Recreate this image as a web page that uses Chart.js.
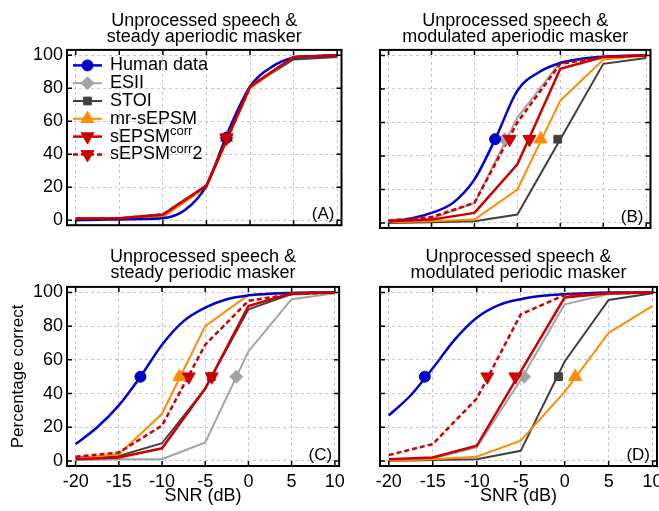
<!DOCTYPE html>
<html>
<head>
<meta charset="utf-8">
<script src="https://cdn.jsdelivr.net/npm/chart.js@4.4.1/dist/chart.umd.min.js"></script>
<style>
  html, body { margin: 0; padding: 0; background: #fff; overflow: hidden; width: 659px; height: 511px; }
  canvas { position: absolute; }
</style>
</head>
<body>
<canvas id="chartA" width="350" height="240" style="left:0;top:0"></canvas>
<canvas id="chartB" width="309" height="240" style="left:350px;top:0"></canvas>
<canvas id="chartC" width="350" height="271" style="left:0;top:240px"></canvas>
<canvas id="chartD" width="330" height="271" style="left:350px;top:240px"></canvas>
<script>
// shared axes / labels
const snrModel = [-20, -15, -10, -5, 0, 5, 10];
const snrHuman = [-20, -17.5, -15, -12.5, -10, -7.5, -5, -2.5, 0, 2.5, 5, 7.5, 10];
const xTickValues = [-20, -15, -10, -5, 0, 5, 10];
const yTickValues = [0, 20, 40, 60, 80, 100];
const seriesNames = ['Human data', 'ESII', 'STOI', 'mr-sEPSM', 'sEPSM^{corr}', 'sEPSM^{corr}2'];

// (A) steady aperiodic masker
const titleA = ['Unprocessed speech &', 'steady aperiodic masker'];
const humanA = [0, 0.3, 0.5, 0.8, 1.2, 6, 21, 54, 81, 93, 98.5, 99.5, 100];
const esiiA = [1, 1, 2, 21, 81, 98, 99.5];
const stoiA = [1, 1, 2.5, 21, 81, 97.5, 99];
const mrA = [0.5, 0.8, 2, 20, 80, 99, 100];
const corrA = [1, 1.2, 3.5, 21, 81, 99, 100];
const corr2A = [1, 1.2, 3.5, 21, 81, 99, 100];
const srtA = [-2.7, -2.7, -2.7, -2.7, -2.7, -2.7];

// (B) modulated aperiodic masker
const titleB = ['Unprocessed speech &', 'modulated aperiodic masker'];
const humanB = [1, 2.6, 6, 12, 26, 51, 79, 90, 95.5, 98, 99.2, 99.8, 100];
const esiiB = [1, 2.5, 12, 63, 96, 99, 100];
const stoiB = [0, 0.5, 1, 5, 50, 95, 98.5];
const mrB = [0.5, 1, 2, 20, 73, 97.5, 100];
const corrB = [1, 2, 6, 35, 92, 99, 100];
const corr2B = [1.5, 3.5, 12, 60, 95, 99, 100];
const srtB = [-7.6, -6.5, -0.3, -2.3, -3.6, -5.9];

// (C) steady periodic masker
const titleC = ['Unprocessed speech &', 'steady periodic masker'];
const humanC = [10, 20, 33, 50, 69, 83, 91, 96, 98.3, 99.3, 99.7, 100, 100];
const esiiC = [0.5, 1, 1, 11, 65, 96, 99.5];
const stoiC = [2, 3, 10.5, 43, 90, 99, 100];
const mrC = [1.5, 4, 28, 80, 98.5, 99.5, 100];
const corrC = [1, 2, 7.5, 43, 92, 99.5, 100];
const corr2C = [2.5, 5, 21, 69, 95, 99, 100];
const srtC = [-12.5, -1.4, -4.3, -8.0, -4.25, -6.9];

// (D) modulated periodic masker
const titleD = ['Unprocessed speech &', 'modulated periodic masker'];
const humanD = [27, 39, 55, 72, 85, 92.5, 96, 98, 99, 99.6, 100, 100, 100];
const esiiD = [0.5, 1.5, 8, 48, 93, 99, 100];
const stoiD = [0, 0.5, 1, 6, 59, 95.5, 99.5];
const mrD = [0, 1, 2.5, 12, 41, 76, 92];
const corrD = [1, 2, 9, 53, 97, 99.5, 100];
const corr2D = [3.5, 10, 37, 87, 98.5, 99.5, 100];
const srtD = [-15.9, -4.6, -0.7, 1.2, -5.6, -8.8];

const FONT = '"Liberation Sans", Arial, Helvetica, sans-serif';

const seriesStyles = [
    { color: '#0000cc', width: 2.5, dash: [], point: 'circle', radius: 5.5, rotation: 0 },
    { color: '#a3a3a3', width: 2, dash: [], point: 'rectRot', radius: 6.5, rotation: 0 },
    { color: '#404040', width: 2, dash: [], point: 'rect', radius: 5.5, rotation: 0 },
    { color: '#ff8c00', width: 2, dash: [], point: 'triangle', radius: 7.5, rotation: 0 },
    { color: '#cc0000', width: 2.5, dash: [], point: 'triangle', radius: 7.5, rotation: 180 },
    { color: '#cc0000', width: 2.5, dash: [5, 3], point: 'triangle', radius: 7.5, rotation: 180 }
];
// drawing order, topmost first
const stackOrder = [4, 5, 0, 3, 2, 1];

function buildDatasets(curves, srt) {
    const sets = [];
    curves.forEach((vals, i) => {
        const st = seriesStyles[i];
        const xs = i === 0 ? snrHuman : snrModel;
        const rank = stackOrder.indexOf(i);
        sets.push({
            data: xs.map((x, k) => ({ x: x, y: vals[k] })),
            borderColor: st.color,
            borderWidth: st.width,
            borderDash: st.dash,
            pointRadius: 0,
            tension: i === 0 ? 0.4 : 0,
            cubicInterpolationMode: i === 0 ? 'monotone' : 'default',
            order: 10 + rank
        });
        sets.push({
            data: [{ x: srt[i], y: 50 }],
            showLine: false,
            pointStyle: st.point,
            pointRadius: st.radius,
            pointRotation: st.rotation,
            pointBackgroundColor: st.color,
            pointBorderColor: st.color,
            pointBorderWidth: 1,
            order: rank
        });
    });
    return sets;
}

// black box with inward tick marks on all sides
const framePlugin = {
    id: 'frame',
    afterDraw(chart) {
        const { ctx, chartArea: a } = chart;
        const x = chart.scales.x, y = chart.scales.y;
        ctx.save();
        ctx.strokeStyle = '#000';
        ctx.lineWidth = 1.5;
        ctx.beginPath();
        x.ticks.forEach(t => {
            const px = x.getPixelForValue(t.value);
            ctx.moveTo(px, a.bottom); ctx.lineTo(px, a.bottom - 5);
            ctx.moveTo(px, a.top); ctx.lineTo(px, a.top + 5);
        });
        y.ticks.forEach(t => {
            const py = y.getPixelForValue(t.value);
            ctx.moveTo(a.left, py); ctx.lineTo(a.left + 5, py);
            ctx.moveTo(a.right, py); ctx.lineTo(a.right - 5, py);
        });
        ctx.stroke();
        ctx.lineWidth = 2;
        ctx.strokeRect(a.left, a.top, a.right - a.left, a.bottom - a.top);
        ctx.restore();
    }
};

const panelTagPlugin = {
    id: 'panelTag',
    afterDatasetsDraw(chart, args, opts) {
        const { ctx, chartArea: a } = chart;
        ctx.save();
        ctx.font = '17px ' + FONT;
        ctx.fillStyle = '#000';
        ctx.textAlign = 'right';
        ctx.textBaseline = 'middle';
        ctx.fillText(opts.text, a.right - 7, a.bottom - 11);
        ctx.restore();
    }
};

function labelParts(name) {
    const m = name.match(/^(.*?)\^\{(.*?)\}(.*)$/);
    return m ? [[m[1], false], [m[2], true], [m[3], false]] : [[name, false]];
}

const legendPlugin = {
    id: 'seriesLegend',
    afterDatasetsDraw(chart) {
        const { ctx, chartArea: a } = chart;
        const x0 = a.left + 6, x1 = a.left + 35, tx = a.left + 43;
        seriesNames.forEach((name, i) => {
            const y = a.top + 15.5 + i * 17.8;
            const st = seriesStyles[i];
            ctx.save();
            ctx.strokeStyle = st.color;
            ctx.lineWidth = st.width;
            ctx.setLineDash(st.dash);
            ctx.beginPath();
            ctx.moveTo(x0, y);
            ctx.lineTo(x1, y);
            ctx.stroke();
            ctx.setLineDash([]);
            ctx.fillStyle = st.color;
            ctx.lineWidth = 1;
            Chart.helpers.drawPoint(ctx, { pointStyle: st.point, radius: st.radius, rotation: st.rotation, borderWidth: 1 }, (x0 + x1) / 2, y);
            ctx.fillStyle = '#000';
            ctx.textAlign = 'left';
            ctx.textBaseline = 'middle';
            let cx = tx;
            labelParts(name).forEach(([txt, sup]) => {
                ctx.font = (sup ? '13px ' : '18px ') + FONT;
                ctx.fillText(txt, cx, sup ? y - 5 : y);
                cx += ctx.measureText(txt).width;
            });
            ctx.restore();
        });
    }
};

function makePanel(id, p) {
    const tickFont = { family: FONT, size: 18 };
    new Chart(document.getElementById(id), {
        type: 'line',
        data: { datasets: buildDatasets(p.curves, p.srt) },
        plugins: [framePlugin, panelTagPlugin].concat(p.legend ? [legendPlugin] : []),
        options: {
            responsive: false,
            animation: false,
            layout: { padding: { left: 0, right: p.padRight, top: 0, bottom: 0 } },
            plugins: {
                legend: { display: false },
                tooltip: { enabled: false },
                title: {
                    display: true,
                    text: p.title,
                    fullSize: false,
                    color: '#000',
                    font: { family: FONT, size: 18, weight: 'normal', lineHeight: 0.9 },
                    padding: { top: p.titleTop, bottom: p.titleBottom }
                },
                panelTag: { text: p.tag }
            },
            scales: {
                x: {
                    type: 'linear',
                    min: -21,
                    max: 10.5,
                    afterBuildTicks: s => { s.ticks = xTickValues.map(v => ({ value: v })); },
                    afterFit: s => { s.height = p.xHeight; },
                    grid: { color: '#c8c8c8', lineWidth: 1, drawTicks: false },
                    border: { display: false, dash: [3, 3] },
                    ticks: { display: p.xLabels, color: '#000', font: tickFont, padding: 5, maxRotation: 0 },
                    title: { display: p.xLabels, text: 'SNR (dB)', color: '#000', font: { family: FONT, size: 18 }, padding: { top: 0, bottom: 4 } }
                },
                y: {
                    type: 'linear',
                    min: -3,
                    max: 103.3,
                    afterBuildTicks: s => { s.ticks = yTickValues.map(v => ({ value: v })); },
                    afterFit: s => { s.width = p.yWidth; },
                    grid: { color: '#c8c8c8', lineWidth: 1, drawTicks: false },
                    border: { display: false, dash: [3, 3] },
                    ticks: { display: p.yLabels, color: '#000', font: tickFont, padding: 4 },
                    title: { display: !!p.yTitle, text: p.yTitle || '', color: '#000', font: { family: FONT, size: 17 }, padding: { top: 8, bottom: 0 } }
                }
            }
        }
    });
}

makePanel('chartA', {
    curves: [humanA, esiiA, stoiA, mrA, corrA, corr2A], srt: srtA, title: titleA, tag: '(A)',
    legend: true, xLabels: false, yLabels: true, yWidth: 67, xHeight: 12, padRight: 7,
    titleTop: 12.5, titleBottom: 5
});
makePanel('chartB', {
    curves: [humanB, esiiB, stoiB, mrB, corrB, corr2B], srt: srtB, title: titleB, tag: '(B)',
    legend: false, xLabels: false, yLabels: false, yWidth: 30, xHeight: 12, padRight: 2,
    titleTop: 12.5, titleBottom: 5
});
makePanel('chartC', {
    curves: [humanC, esiiC, stoiC, mrC, corrC, corr2C], srt: srtC, title: titleC, tag: '(C)',
    legend: false, xLabels: true, yLabels: true, yWidth: 67, xHeight: 45, padRight: 7,
    titleTop: 8.5, titleBottom: 6, yTitle: 'Percentage correct'
});
makePanel('chartD', {
    curves: [humanD, esiiD, stoiD, mrD, corrD, corr2D], srt: srtD, title: titleD, tag: '(D)',
    legend: false, xLabels: true, yLabels: false, yWidth: 30, xHeight: 45, padRight: 23,
    titleTop: 8.5, titleBottom: 6
});
</script>
</body>
</html>
